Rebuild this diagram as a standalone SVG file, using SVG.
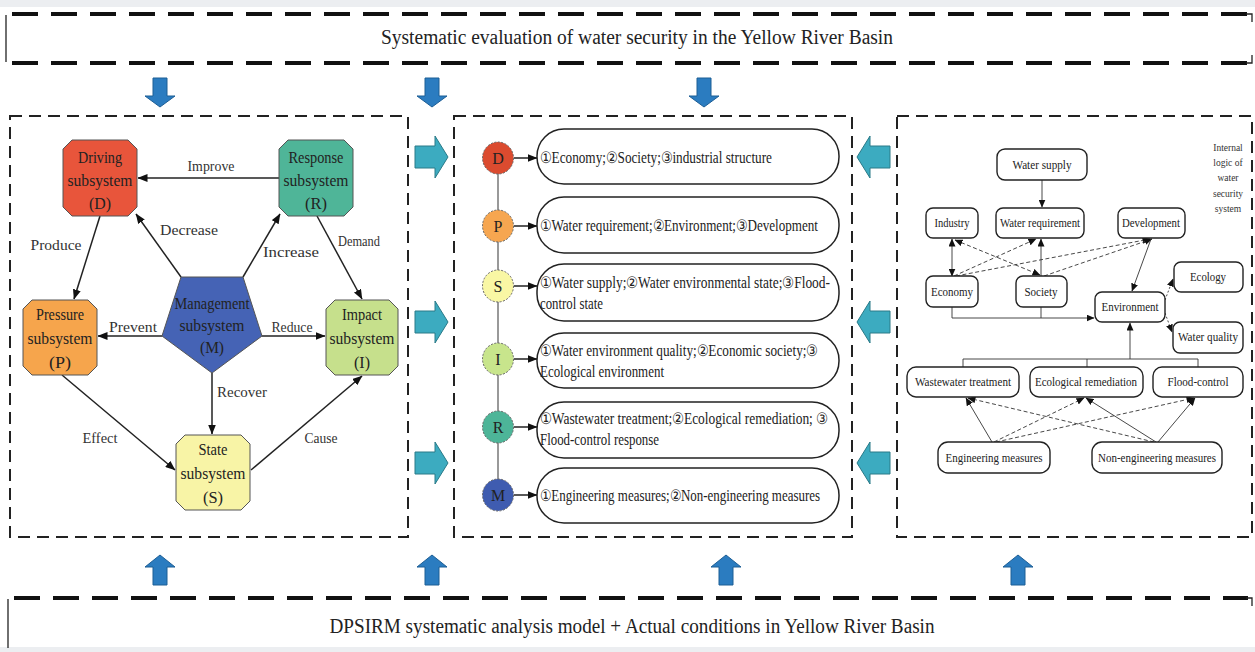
<svg xmlns="http://www.w3.org/2000/svg" width="1255" height="652" viewBox="0 0 1255 652">
<defs>
<marker id="ah" markerWidth="10" markerHeight="8" refX="9.5" refY="4" orient="auto" markerUnits="userSpaceOnUse"><path d="M0,0 L10,4 L0,8 Z" fill="#111"/></marker>
<marker id="as" markerWidth="8" markerHeight="7" refX="7.5" refY="3.5" orient="auto-start-reverse" markerUnits="userSpaceOnUse"><path d="M0,0 L8,3.5 L0,7 Z" fill="#111"/></marker>
</defs>
<style>
.t{font-family:"Liberation Serif","Times New Roman",serif;fill:#222}
.nt{font-size:17px;text-anchor:middle}
.lb{font-size:15px;text-anchor:middle;fill:#333}
.bt{font-size:16px}
.rt{font-size:12px;text-anchor:middle}
.it{font-size:9.5px;text-anchor:middle;fill:#333}
.pan{fill:none;stroke:#222;stroke-width:2;stroke-dasharray:12 7}
.ban{fill:none;stroke:#111;stroke-width:4;stroke-dasharray:26 13}
.sol{fill:none;stroke:#222;stroke-width:1.3}
.e{stroke:#222;stroke-width:1.5;fill:none;marker-end:url(#ah)}
.re{stroke:#333;stroke-width:0.9;fill:none}
.ra{marker-end:url(#as)}
.rb{marker-start:url(#as);marker-end:url(#as)}
.dsh{stroke-dasharray:4 2.5}
.dot{stroke-dasharray:2 2}
.nd{stroke:#555;stroke-width:1}
.box{fill:#fff;stroke:#222;stroke-width:1.5}
.rbx{fill:#fff;stroke:#222;stroke-width:1.4}
.cy{fill:#3cabc0;stroke:#2a7a88;stroke-width:1}
.bl{fill:#2b7cc0;stroke:#1d5e95;stroke-width:1}
.cir{stroke:#666;stroke-width:1;stroke-dasharray:2 1.5}
</style>
<rect width="1255" height="652" fill="#ffffff"/>
<rect width="1255" height="7" fill="#eceef1"/>
<rect y="647" width="1255" height="5" fill="#eceef1"/>

<!-- top banner -->
<g id="top-banner">
<line class="ban" x1="12" y1="14" x2="1248" y2="14"/>
<line class="ban" x1="12" y1="63" x2="1248" y2="63"/>
<line class="sol" x1="6" y1="15" x2="6" y2="62"/>
<path class="sol" d="M1246,14 H1252 V22 M1252,55 V63 H1246" stroke-width="2"/>
<text class="t" x="637" y="44" font-size="20" text-anchor="middle" textLength="512" lengthAdjust="spacingAndGlyphs">Systematic evaluation of water security in the Yellow River Basin</text>
</g>

<!-- bottom banner -->
<g id="bottom-banner">
<line class="ban" x1="14" y1="598" x2="1248" y2="598"/>
<line class="sol" x1="8" y1="599" x2="8" y2="648"/>
<path class="sol" d="M1246,598 H1252 V606" stroke-width="2"/>
<text class="t" x="632" y="633" font-size="20" text-anchor="middle" textLength="605" lengthAdjust="spacingAndGlyphs">DPSIRM systematic analysis model + Actual conditions in Yellow River Basin</text>
</g>

<!-- big arrows -->
<g id="flow-arrows">
<path class="bl" d="M153,78 H167 V96 H175 L160,107 L145,96 H153 Z"/>
<path class="bl" d="M425,78 H439 V96 H447 L432,107 L417,96 H425 Z"/>
<path class="bl" d="M697,78 H711 V96 H719 L704,107 L689,96 H697 Z"/>
<path class="bl" d="M160,555 L175,567 H167 V585 H153 V567 H145 Z"/>
<path class="bl" d="M432,555 L447,567 H439 V585 H425 V567 H417 Z"/>
<path class="bl" d="M726,555 L741,567 H733 V585 H719 V567 H711 Z"/>
<path class="bl" d="M1018,555 L1033,567 H1025 V585 H1011 V567 H1003 Z"/>
<path class="cy" d="M415,146 H435 V136 L448,157 L435,178 V168 H415 Z"/>
<path class="cy" d="M415,311 H435 V301 L448,322 L435,343 V333 H415 Z"/>
<path class="cy" d="M415,452 H435 V442 L448,463 L435,484 V474 H415 Z"/>
<path class="cy" d="M890,146 H870 V136 L857,157 L870,178 V168 H890 Z"/>
<path class="cy" d="M890,311 H870 V301 L857,322 L870,343 V333 H890 Z"/>
<path class="cy" d="M890,452 H870 V442 L857,463 L870,484 V474 H890 Z"/>
</g>

<!-- panels -->
<g id="panels">
<rect class="pan" x="10" y="116" width="398" height="421"/>
<rect class="pan" x="454" y="116" width="398" height="421"/>
<rect class="pan" x="897" y="116" width="355" height="421"/>
</g>

<!-- LEFT PANEL connectors -->
<g id="left-connectors">
<line class="e" x1="279" y1="178" x2="138" y2="178"/>
<line class="e" x1="100" y1="216" x2="74" y2="299"/>
<line class="e" x1="181" y1="277" x2="136" y2="214"/>
<line class="e" x1="243" y1="277" x2="280" y2="214"/>
<line class="e" x1="317" y1="216" x2="362" y2="299"/>
<line class="e" x1="162" y1="336" x2="98" y2="336"/>
<line class="e" x1="262" y1="336" x2="325" y2="336"/>
<line class="e" x1="212" y1="373" x2="212" y2="434"/>
<line class="e" x1="62" y1="375" x2="175" y2="470"/>
<line class="e" x1="251" y1="470" x2="362" y2="376"/>
<g class="t lb">
<text x="211" y="171" textLength="47" lengthAdjust="spacingAndGlyphs">Improve</text>
<text x="56" y="250" textLength="51" lengthAdjust="spacingAndGlyphs">Produce</text>
<text x="189" y="235" textLength="58" lengthAdjust="spacingAndGlyphs">Decrease</text>
<text x="291" y="257" textLength="56" lengthAdjust="spacingAndGlyphs">Increase</text>
<text x="359" y="246" textLength="42" lengthAdjust="spacingAndGlyphs">Demand</text>
<text x="133" y="332" textLength="48" lengthAdjust="spacingAndGlyphs">Prevent</text>
<text x="292" y="332" textLength="41" lengthAdjust="spacingAndGlyphs">Reduce</text>
<text x="242" y="397" textLength="50" lengthAdjust="spacingAndGlyphs">Recover</text>
<text x="100" y="443" textLength="35" lengthAdjust="spacingAndGlyphs">Effect</text>
<text x="321" y="443" textLength="33" lengthAdjust="spacingAndGlyphs">Cause</text>
</g>
</g>

<!-- LEFT PANEL nodes -->
<g id="node-D">
<polygon class="nd" fill="#e8553b" points="72,140 128,140 137,149 137,207 128,216 72,216 63,207 63,149"/>
<text class="t nt" x="100" y="163" textLength="44" lengthAdjust="spacingAndGlyphs">Driving</text>
<text class="t nt" x="100" y="186" textLength="65" lengthAdjust="spacingAndGlyphs">subsystem</text>
<text class="t nt" x="100" y="209" textLength="22" lengthAdjust="spacingAndGlyphs">(D)</text>
</g>
<g id="node-R">
<polygon class="nd" fill="#4fb598" points="288,140 344,140 353,149 353,207 344,216 288,216 279,207 279,149"/>
<text class="t nt" x="316" y="163" textLength="55" lengthAdjust="spacingAndGlyphs">Response</text>
<text class="t nt" x="316" y="186" textLength="65" lengthAdjust="spacingAndGlyphs">subsystem</text>
<text class="t nt" x="316" y="209" textLength="22" lengthAdjust="spacingAndGlyphs">(R)</text>
</g>
<g id="node-P">
<polygon class="nd" fill="#f6a54c" points="32,300 88,300 97,309 97,366 88,375 32,375 23,366 23,309"/>
<text class="t nt" x="60" y="320" textLength="48" lengthAdjust="spacingAndGlyphs">Pressure</text>
<text class="t nt" x="60" y="344" textLength="65" lengthAdjust="spacingAndGlyphs">subsystem</text>
<text class="t nt" x="60" y="368" textLength="22" lengthAdjust="spacingAndGlyphs">(P)</text>
</g>
<g id="node-I">
<polygon class="nd" fill="#c6e08c" points="335,300 389,300 398,309 398,366 389,375 335,375 326,366 326,309"/>
<text class="t nt" x="362" y="320" textLength="40" lengthAdjust="spacingAndGlyphs">Impact</text>
<text class="t nt" x="362" y="344" textLength="65" lengthAdjust="spacingAndGlyphs">subsystem</text>
<text class="t nt" x="362" y="368" textLength="16" lengthAdjust="spacingAndGlyphs">(I)</text>
</g>
<g id="node-M">
<polygon class="nd" fill="#4563b5" points="181,277 243,277 262,336 212,373 162,336"/>
<text class="t nt" x="212" y="309" fill="#1b2550" textLength="75" lengthAdjust="spacingAndGlyphs">Management</text>
<text class="t nt" x="212" y="331" fill="#1b2550" textLength="65" lengthAdjust="spacingAndGlyphs">subsystem</text>
<text class="t nt" x="212" y="353" fill="#1b2550" textLength="24" lengthAdjust="spacingAndGlyphs">(M)</text>
</g>
<g id="node-S">
<polygon class="nd" fill="#f8f4a6" points="185,435 241,435 250,444 250,501 241,510 185,510 176,501 176,444"/>
<text class="t nt" x="213" y="455" textLength="29" lengthAdjust="spacingAndGlyphs">State</text>
<text class="t nt" x="213" y="479" textLength="65" lengthAdjust="spacingAndGlyphs">subsystem</text>
<text class="t nt" x="213" y="503" textLength="20" lengthAdjust="spacingAndGlyphs">(S)</text>
</g>

<!-- MIDDLE PANEL -->
<g id="middle-connectors">
<line x1="498" y1="158" x2="498" y2="495" stroke="#777" stroke-width="1.5"/>
<line class="e" x1="514" y1="158" x2="537" y2="158"/>
<line class="e" x1="514" y1="226" x2="537" y2="226"/>
<line class="e" x1="514" y1="286" x2="537" y2="286"/>
<line class="e" x1="514" y1="359" x2="537" y2="359"/>
<line class="e" x1="514" y1="427" x2="537" y2="427"/>
<line class="e" x1="514" y1="495" x2="537" y2="495"/>
</g>
<g id="mid-D">
<ellipse class="cir" cx="498" cy="158" rx="15.5" ry="16" fill="#db4b2f"/>
<text class="t" x="498" y="164" font-size="16" text-anchor="middle" fill="#5a1408">D</text>
<rect class="box" x="537" y="129" width="302" height="55" rx="27"/>
<text class="t bt" x="540" y="163" textLength="232" lengthAdjust="spacingAndGlyphs">①Economy;②Society;③industrial structure</text>
</g>
<g id="mid-P">
<ellipse class="cir" cx="498" cy="226" rx="15.5" ry="16" fill="#f6a650"/>
<text class="t" x="498" y="232" font-size="16" text-anchor="middle" fill="#5a3008">P</text>
<rect class="box" x="537" y="197" width="302" height="56" rx="27"/>
<text class="t bt" x="540" y="231" textLength="278" lengthAdjust="spacingAndGlyphs">①Water requirement;②Environment;③Development</text>
</g>
<g id="mid-S">
<ellipse class="cir" cx="498" cy="286" rx="15.5" ry="16" fill="#f9f7a4"/>
<text class="t" x="498" y="292" font-size="16" text-anchor="middle" fill="#444">S</text>
<rect class="box" x="537" y="264" width="302" height="57" rx="27"/>
<text class="t bt" x="540" y="288" textLength="290" lengthAdjust="spacingAndGlyphs">①Water supply;②Water environmental state;③Flood-</text>
<text class="t bt" x="540" y="309" textLength="63" lengthAdjust="spacingAndGlyphs">control state</text>
</g>
<g id="mid-I">
<ellipse class="cir" cx="498" cy="359" rx="15.5" ry="16" fill="#c8e58c"/>
<text class="t" x="498" y="365" font-size="16" text-anchor="middle" fill="#333">I</text>
<rect class="box" x="537" y="333" width="302" height="55" rx="27"/>
<text class="t bt" x="540" y="356" textLength="278" lengthAdjust="spacingAndGlyphs">①Water environment quality;②Economic society;③</text>
<text class="t bt" x="540" y="377" textLength="124" lengthAdjust="spacingAndGlyphs">Ecological environment</text>
</g>
<g id="mid-R">
<ellipse class="cir" cx="498" cy="427" rx="15.5" ry="16" fill="#4db598"/>
<text class="t" x="498" y="433" font-size="16" text-anchor="middle" fill="#0f3a30">R</text>
<rect class="box" x="537" y="402" width="302" height="56" rx="27"/>
<text class="t bt" x="540" y="424" textLength="288" lengthAdjust="spacingAndGlyphs">①Wastewater treatment;②Ecological remediation;  ③</text>
<text class="t bt" x="540" y="445" textLength="119" lengthAdjust="spacingAndGlyphs">Flood-control response</text>
</g>
<g id="mid-M">
<ellipse class="cir" cx="498" cy="495" rx="15.5" ry="16" fill="#3f5cb0"/>
<text class="t" x="498" y="501" font-size="16" text-anchor="middle" fill="#101a40">M</text>
<rect class="box" x="537" y="468" width="302" height="55" rx="27"/>
<text class="t bt" x="540" y="501" textLength="280" lengthAdjust="spacingAndGlyphs">①Engineering measures;②Non-engineering measures</text>
</g>

<!-- RIGHT PANEL connectors -->
<g id="right-connectors">
<path class="re ra" d="M1042,180 V207"/>
<path class="re rb" d="M952,276 V239"/>
<path class="re ra" d="M1041,276 V239"/>
<path class="re rb dsh" d="M955,240 L1040,275"/>
<path class="re ra dsh" d="M954,276 L1036,239"/>
<path class="re ra dsh" d="M956,276 L1150,239"/>
<path class="re ra dsh" d="M1044,276 L1152,239"/>
<path class="re ra" d="M1151,239 L1132,291"/>
<path class="re ra" d="M952,307 V318 H1094"/>
<path class="re" d="M1041,307 V318"/>
<path class="re ra dot" d="M1165,300 L1173,279"/>
<path class="re ra dot" d="M1165,313 L1172,332"/>
<path class="re" d="M963,367 V359 H1198 V367 M1087,367 V359"/>
<path class="re ra" d="M1130,359 V323"/>
<path class="re ra" d="M992,442 L966,398"/>
<path class="re ra dsh" d="M994,442 L1084,398"/>
<path class="re ra dsh" d="M996,442 L1194,398"/>
<path class="re ra dsh" d="M1154,442 L968,398"/>
<path class="re ra" d="M1156,442 L1086,398"/>
<path class="re ra" d="M1158,442 L1195,398"/>
</g>

<!-- RIGHT PANEL nodes -->
<g id="r-watersupply"><rect class="rbx" x="997" y="149" width="90" height="31" rx="8"/><text class="t rt" x="1042" y="169" textLength="59" lengthAdjust="spacingAndGlyphs">Water supply</text></g>
<g id="r-industry"><rect class="rbx" x="926" y="208" width="52" height="30" rx="7"/><text class="t rt" x="952" y="227" textLength="35" lengthAdjust="spacingAndGlyphs">Industry</text></g>
<g id="r-waterreq"><rect class="rbx" x="996" y="208" width="88" height="30" rx="7"/><text class="t rt" x="1040" y="227" textLength="80" lengthAdjust="spacingAndGlyphs">Water requirement</text></g>
<g id="r-development"><rect class="rbx" x="1118" y="208" width="67" height="30" rx="7"/><text class="t rt" x="1151" y="227" textLength="58" lengthAdjust="spacingAndGlyphs">Development</text></g>
<g id="r-economy"><rect class="rbx" x="926" y="276" width="52" height="31" rx="7"/><text class="t rt" x="952" y="296" textLength="42" lengthAdjust="spacingAndGlyphs">Economy</text></g>
<g id="r-society"><rect class="rbx" x="1016" y="276" width="51" height="31" rx="7"/><text class="t rt" x="1041" y="296" textLength="33" lengthAdjust="spacingAndGlyphs">Society</text></g>
<g id="r-environment"><rect class="rbx" x="1095" y="292" width="70" height="30" rx="7"/><text class="t rt" x="1130" y="311" textLength="57" lengthAdjust="spacingAndGlyphs">Environment</text></g>
<g id="r-ecology"><rect class="rbx" x="1174" y="262" width="69" height="30" rx="7"/><text class="t rt" x="1208" y="281" textLength="36" lengthAdjust="spacingAndGlyphs">Ecology</text></g>
<g id="r-waterquality"><rect class="rbx" x="1173" y="322" width="70" height="31" rx="7"/><text class="t rt" x="1208" y="341" textLength="60" lengthAdjust="spacingAndGlyphs">Water quality</text></g>
<g id="r-wastewater"><rect class="rbx" x="907" y="367" width="112" height="30" rx="9"/><text class="t rt" x="963" y="386" textLength="96" lengthAdjust="spacingAndGlyphs">Wastewater treatment</text></g>
<g id="r-ecoremed"><rect class="rbx" x="1030" y="367" width="113" height="30" rx="9"/><text class="t rt" x="1086" y="386" textLength="102" lengthAdjust="spacingAndGlyphs">Ecological remediation</text></g>
<g id="r-flood"><rect class="rbx" x="1153" y="367" width="90" height="30" rx="9"/><text class="t rt" x="1198" y="386" textLength="61" lengthAdjust="spacingAndGlyphs">Flood-control</text></g>
<g id="r-engineering"><rect class="rbx" x="938" y="442" width="112" height="31" rx="10"/><text class="t rt" x="994" y="462" textLength="97" lengthAdjust="spacingAndGlyphs">Engineering measures</text></g>
<g id="r-nonengineering"><rect class="rbx" x="1092" y="442" width="130" height="31" rx="10"/><text class="t rt" x="1157" y="462" textLength="118" lengthAdjust="spacingAndGlyphs">Non-engineering measures</text></g>
<g id="r-caption" class="t it">
<text x="1228" y="151">Internal</text>
<text x="1228" y="166">logic of</text>
<text x="1228" y="181">water</text>
<text x="1228" y="197">security</text>
<text x="1228" y="212">system</text>
</g>
</svg>
